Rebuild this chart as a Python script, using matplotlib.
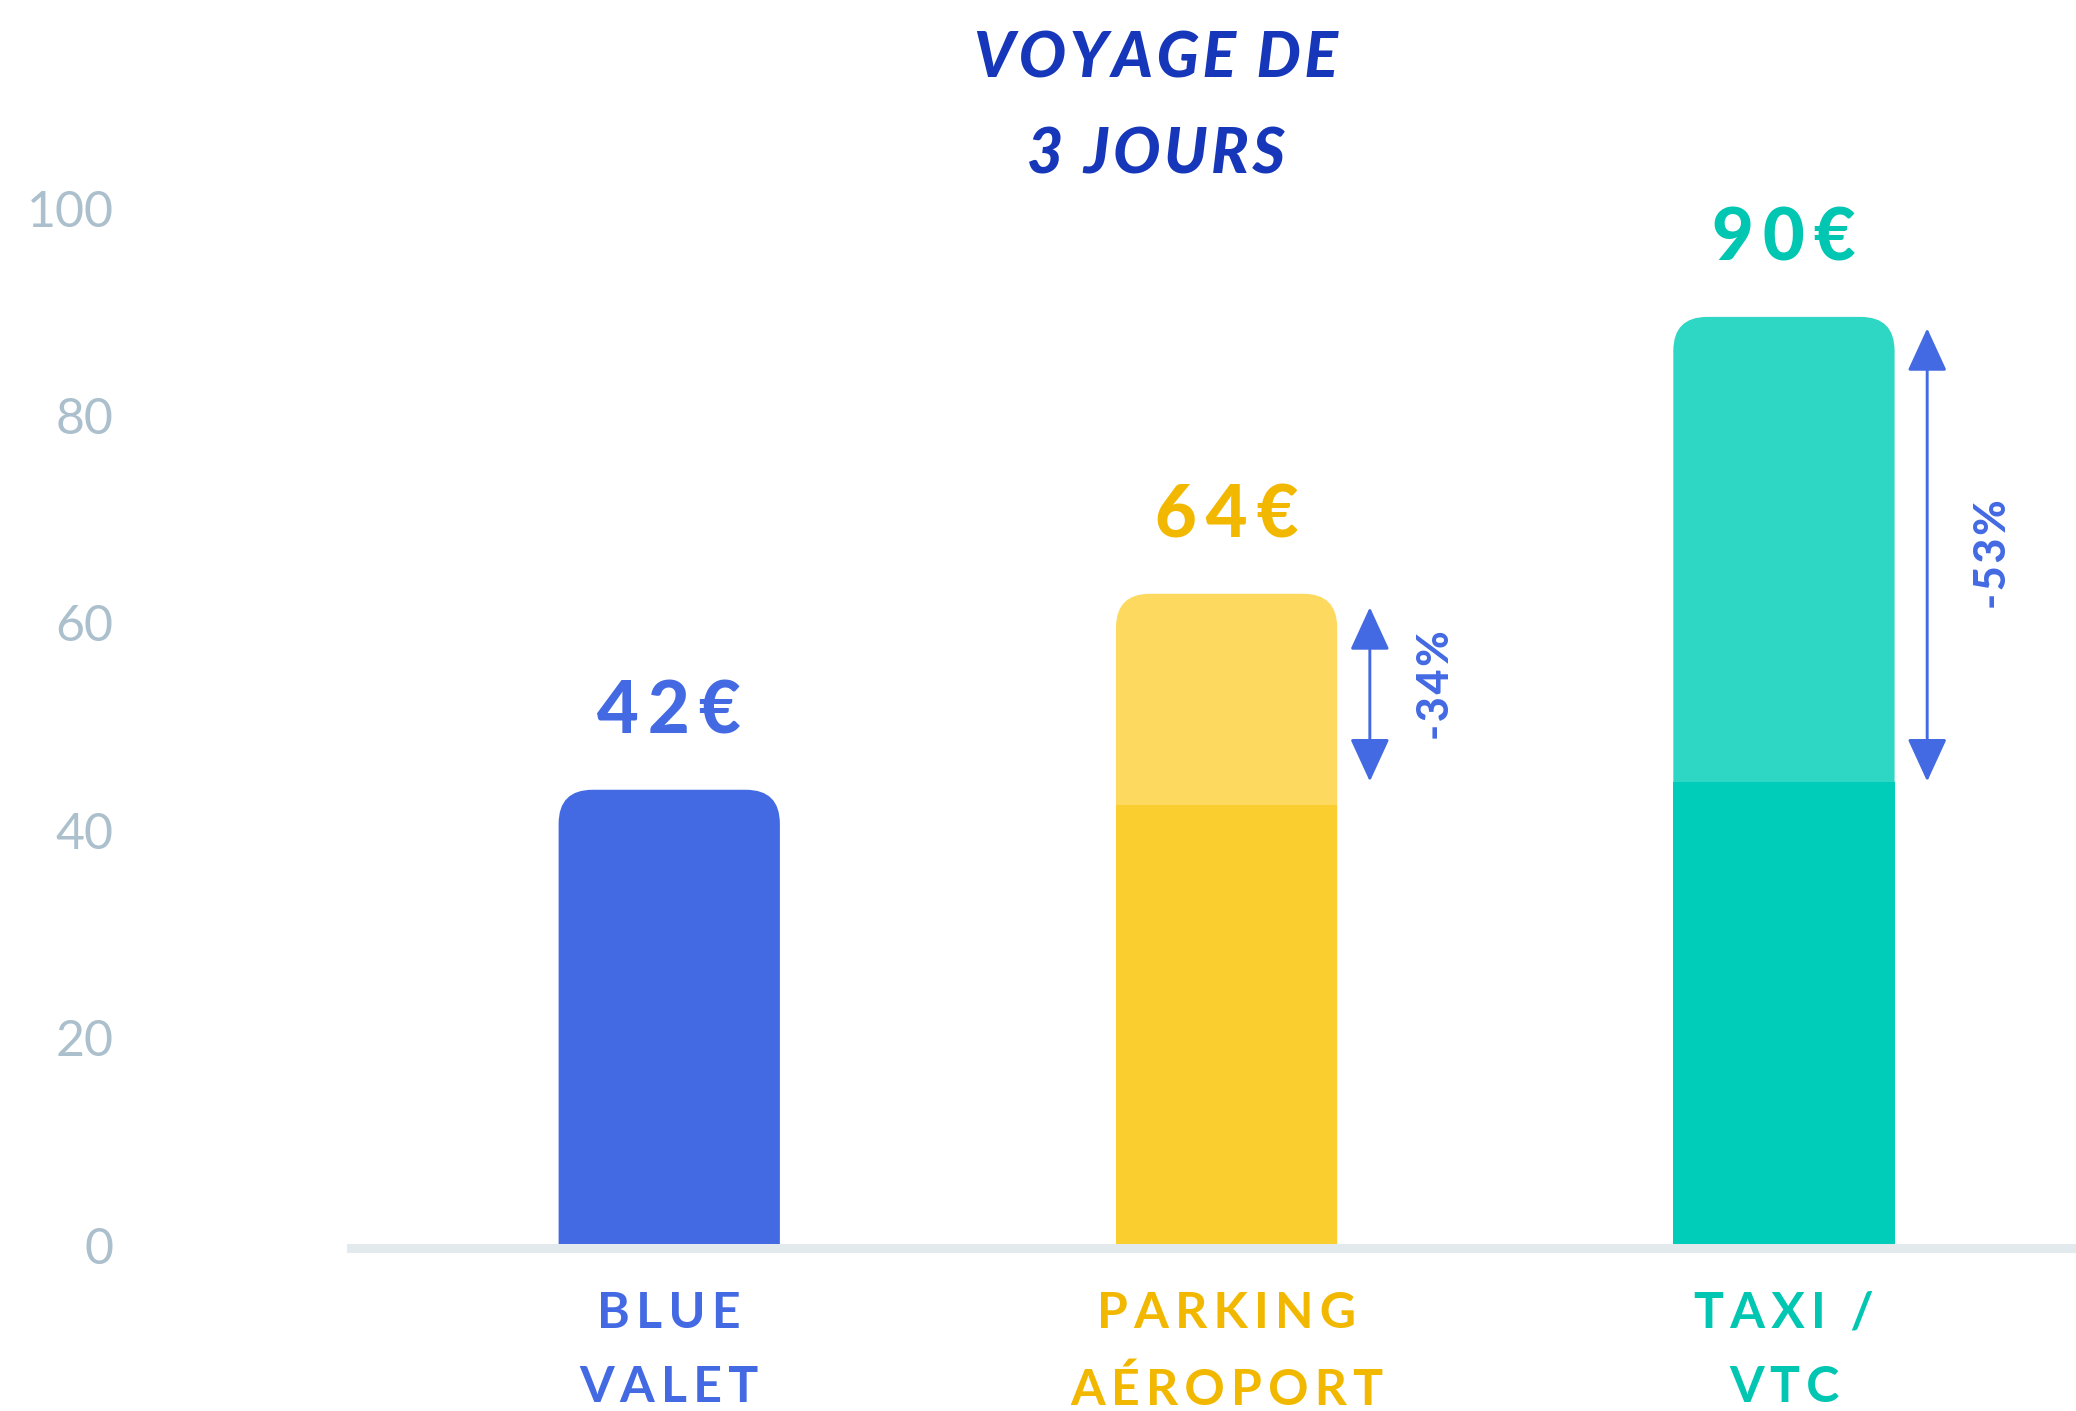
import matplotlib
matplotlib.use("Agg")
import matplotlib.pyplot as plt
from matplotlib.patches import FancyBboxPatch

# values
categories = ["BLUE\nVALET", "PARKING\nAÉROPORT", "TAXI /\nVTC"]
totals = [43.9, 62.8, 89.5]          # full bar height
bases = [None, 42.4, 44.6]           # darker lower segment
price_labels = ["42€", "64€", "90€"]
pct_labels = [None, "-34%", "-53%"]
pct_y = [None, 54.0, 66.6]
arrow_low = [None, 44.7, 44.7]
arrow_high = [None, 61.5, 88.4]
yticks = [0, 20, 40, 60, 80, 100]

dark_colors = ["#436AE3", "#F9CE2E", "#00CDB9"]
light_colors = ["#436AE3", "#FDDA5F", "#2ED6C4"]
text_colors = ["#436AE3", "#F2B800", "#00C6B2"]
arrow_color = "#436AE3"
title_color = "#1737BA"
tick_color = "#ABC0CC"
band_color = "#E3EAEE"

plt.rcParams['font.family'] = ['Lato', 'DejaVu Sans']


def spaced(s, gap="\u2009"):
    # fake letter spacing, line by line
    return "\n".join(gap.join(line) for line in s.split("\n"))


W, H = 2076, 1411
fig = plt.figure(figsize=(W / 100, H / 100), dpi=100)

# axes placed so that y=0 sits at 1245px and y=100 at 208px from the top
px_per_y = (1245 - 208) / 100
y_top = 110
ax = fig.add_axes([351 / W, (H - 1245) / H, 1 - 351 / W, y_top * px_per_y / H])
ax.set_xlim(-0.571, 2.524)
ax.set_ylim(0, y_top)

for s in ax.spines.values():
    s.set_visible(False)

x = list(range(len(categories)))
width = 0.397

# pixel scale, used for rounded tops
p0 = ax.transData.transform((0, 0))
p1 = ax.transData.transform((1, 1))
px_x = p1[0] - p0[0]
px_y = p1[1] - p0[1]
aspect = px_x / px_y
r = 34 / px_x
ry = r * aspect

for i in x:
    top = totals[i]
    # start below zero so the lower rounded corners get clipped away
    patch = FancyBboxPatch((i - width / 2, -2 * ry), width, top + 2 * ry,
                           boxstyle=f"round,pad=0,rounding_size={r}",
                           mutation_aspect=aspect, fc=light_colors[i],
                           ec="none", zorder=2)
    ax.add_patch(patch)
    if bases[i]:
        ax.bar(i, bases[i], width=width, color=dark_colors[i], zorder=3, linewidth=0)
    ax.text(i, top + 5.4, spaced(price_labels[i]), ha="center", va="baseline",
            fontsize=52, fontweight="black", color=text_colors[i])
    if pct_labels[i]:
        ax_x = i + 0.257
        ax.annotate("", xy=(ax_x, arrow_high[i]), xytext=(ax_x, arrow_low[i]),
                    arrowprops=dict(arrowstyle="<|-|>,head_length=1.35,head_width=0.62",
                                    mutation_scale=20, color=arrow_color, lw=2.1,
                                    shrinkA=0, shrinkB=0))
        ax.text(ax_x + 0.118, pct_y[i], spaced(pct_labels[i], "\u200a"),
                rotation=90, ha="center", va="center", fontsize=31,
                fontweight="black", color=arrow_color)
    ax.text(i, -4.4, spaced(categories[i]), ha="center", va="top", fontsize=36,
            fontweight="bold", color=text_colors[i], linespacing=1.8,
            clip_on=False)

# baseline band
ax.axhline(-0.3, color=band_color, lw=6.5, zorder=4, clip_on=False)

ax.set_xticks([])
ax.set_yticks(yticks)
ax.set_yticklabels([str(t) for t in yticks])
ax.tick_params(axis="y", length=0, pad=171, labelsize=36, labelcolor=tick_color)
for lab in ax.get_yticklabels():
    lab.set_fontweight("normal")

fig.text(1156 / W, 1 - 30 / H, spaced("VOYAGE DE\n3 JOURS", "\u200a"),
         ha="center", va="top", fontsize=45, fontstyle="italic",
         fontweight="black", color=title_color, linespacing=1.85)

fig.savefig("out.png", dpi=100, facecolor="white")
